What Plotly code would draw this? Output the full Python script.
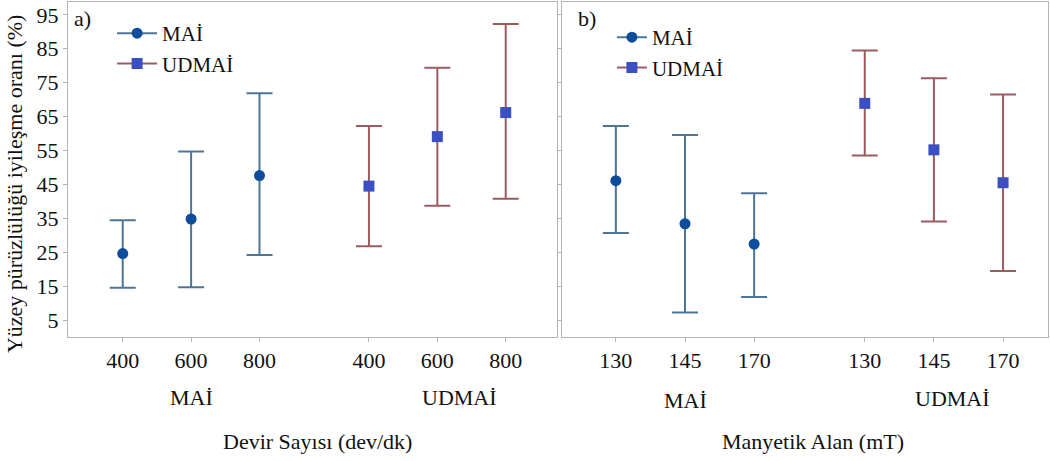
import plotly.graph_objects as go

# ---- data ----
groups = ["MAİ", "UDMAİ"]
speed_labels = ["400", "600", "800"]
field_labels = ["130", "145", "170"]

# panel a) Devir Sayısı
a_mai_mean = [24.6, 34.8, 47.6]
a_mai_upper = [34.4, 54.7, 71.9]
a_mai_lower = [14.5, 14.7, 24.2]
a_udmai_mean = [44.5, 59.1, 66.2]
a_udmai_upper = [62.2, 79.4, 92.3]
a_udmai_lower = [26.8, 38.7, 40.8]

# panel b) Manyetik Alan
b_mai_mean = [46.1, 33.4, 27.4]
b_mai_upper = [62.2, 59.6, 42.4]
b_mai_lower = [30.7, 7.2, 11.8]
b_udmai_mean = [68.9, 55.2, 45.5]
b_udmai_upper = [84.5, 76.3, 71.5]
b_udmai_lower = [53.5, 34.1, 19.5]

y_ticks = [5, 15, 25, 35, 45, 55, 65, 75, 85, 95]

# ---- styles ----
FONT = "Liberation Serif"
FS = 22
MAI_LINE = "#4d7596"
MAI_MARK = "#0d4d9c"
UD_LINE = "#9c5c5e"
UD_MARK = "#3c4fc2"
GAP = 1.6

pos_mai = list(range(3))
pos_ud = [p + 3 + (GAP - 1) for p in range(3)]

fig = go.Figure()

def add_series(xaxis, yaxis, xs, mean, upper, lower, line_c, mark_c, symbol):
    fig.add_trace(go.Scatter(
        x=xs, y=mean, mode="markers", xaxis=xaxis, yaxis=yaxis, showlegend=False,
        marker=dict(color=mark_c, size=11, symbol=symbol),
        error_y=dict(type="data", symmetric=False,
                     array=[u - m for u, m in zip(upper, mean)],
                     arrayminus=[m - l for m, l in zip(mean, lower)],
                     color=line_c, thickness=2, width=13),
    ))

add_series("x", "y", pos_mai, a_mai_mean, a_mai_upper, a_mai_lower, MAI_LINE, MAI_MARK, "circle")
add_series("x", "y", pos_ud, a_udmai_mean, a_udmai_upper, a_udmai_lower, UD_LINE, UD_MARK, "square")
add_series("x2", "y2", pos_mai, b_mai_mean, b_mai_upper, b_mai_lower, MAI_LINE, MAI_MARK, "circle")
add_series("x2", "y2", pos_ud, b_udmai_mean, b_udmai_upper, b_udmai_lower, UD_LINE, UD_MARK, "square")

# legend entries
for leg, xa, ya in (("legend", "x", "y"), ("legend2", "x2", "y2")):
    fig.add_trace(go.Scatter(x=[None], y=[None], mode="lines+markers", name=groups[0],
                             xaxis=xa, yaxis=ya, legend=leg,
                             line=dict(color=MAI_LINE, width=2),
                             marker=dict(color=MAI_MARK, size=11, symbol="circle")))
    fig.add_trace(go.Scatter(x=[None], y=[None], mode="lines+markers", name=groups[1],
                             xaxis=xa, yaxis=ya, legend=leg,
                             line=dict(color=UD_LINE, width=2),
                             marker=dict(color=UD_MARK, size=11, symbol="square")))

axis_common = dict(showline=True, mirror=True, linecolor="#b5b5b5", linewidth=1,
                   showgrid=False, zeroline=False, ticks="outside", ticklen=4,
                   tickcolor="#b5b5b5", tickfont=dict(family=FONT, size=FS, color="#111"))

tickvals = pos_mai + pos_ud
fig.update_layout(
    width=1050, height=461,
    margin=dict(l=68, r=2, t=2, b=124),
    plot_bgcolor="white", paper_bgcolor="white",
    font=dict(family=FONT, size=FS, color="#111"),
    xaxis=dict(domain=[0, 0.499], range=[-0.8, 6.35], tickvals=tickvals,
               ticktext=speed_labels + speed_labels, **axis_common),
    xaxis2=dict(domain=[0.504, 1.0], range=[-0.78, 6.25], tickvals=tickvals,
                ticktext=field_labels + field_labels, anchor="y2", **axis_common),
    yaxis=dict(range=[0, 98.8], tickvals=y_ticks, **axis_common),
    yaxis2=dict(range=[0, 98.8], tickvals=y_ticks, anchor="x2", showticklabels=False,
                **axis_common),
    legend=dict(x=0.045, y=0.967, xanchor="left", yanchor="top", bgcolor="rgba(0,0,0,0)",
                font=dict(family=FONT, size=FS - 1, color="#111"), tracegroupgap=0,
                itemwidth=40),
    legend2=dict(x=0.555, y=0.955, xanchor="left", yanchor="top", bgcolor="rgba(0,0,0,0)",
                 font=dict(family=FONT, size=FS - 1, color="#111"), tracegroupgap=0,
                 itemwidth=30),
)

def add_text(text, x, y, xref, yref, angle=0, xanchor="center"):
    fig.add_annotation(text=text, x=x, y=y, xref=xref, yref=yref, showarrow=False,
                       textangle=angle, xanchor=xanchor, yanchor="middle",
                       font=dict(family=FONT, size=FS, color="#111"))

H = 335.0
def py(pix):  # paper y from pixel row
    return (337 - pix) / H

add_text("a)", 0.004, py(18), "paper", "paper", xanchor="left")
add_text("b)", 0.518, py(18), "paper", "paper", xanchor="left")
add_text(groups[0], 1, py(397), "x", "paper")
add_text(groups[1], 4.93, py(397), "x", "paper")
add_text(groups[0], 1, py(400), "x2", "paper")
add_text(groups[1], 4.87, py(398), "x2", "paper")
add_text("Devir Sayısı (dev/dk)", 0.255, py(441), "paper", "paper")
add_text("Manyetik Alan (mT)", 0.76, py(441), "paper", "paper")
add_text("Yüzey pürüzlülüğü iyileşme oranı (%)", -0.055, py(184), "paper", "paper", angle=-90)

fig.write_html("out.html")
